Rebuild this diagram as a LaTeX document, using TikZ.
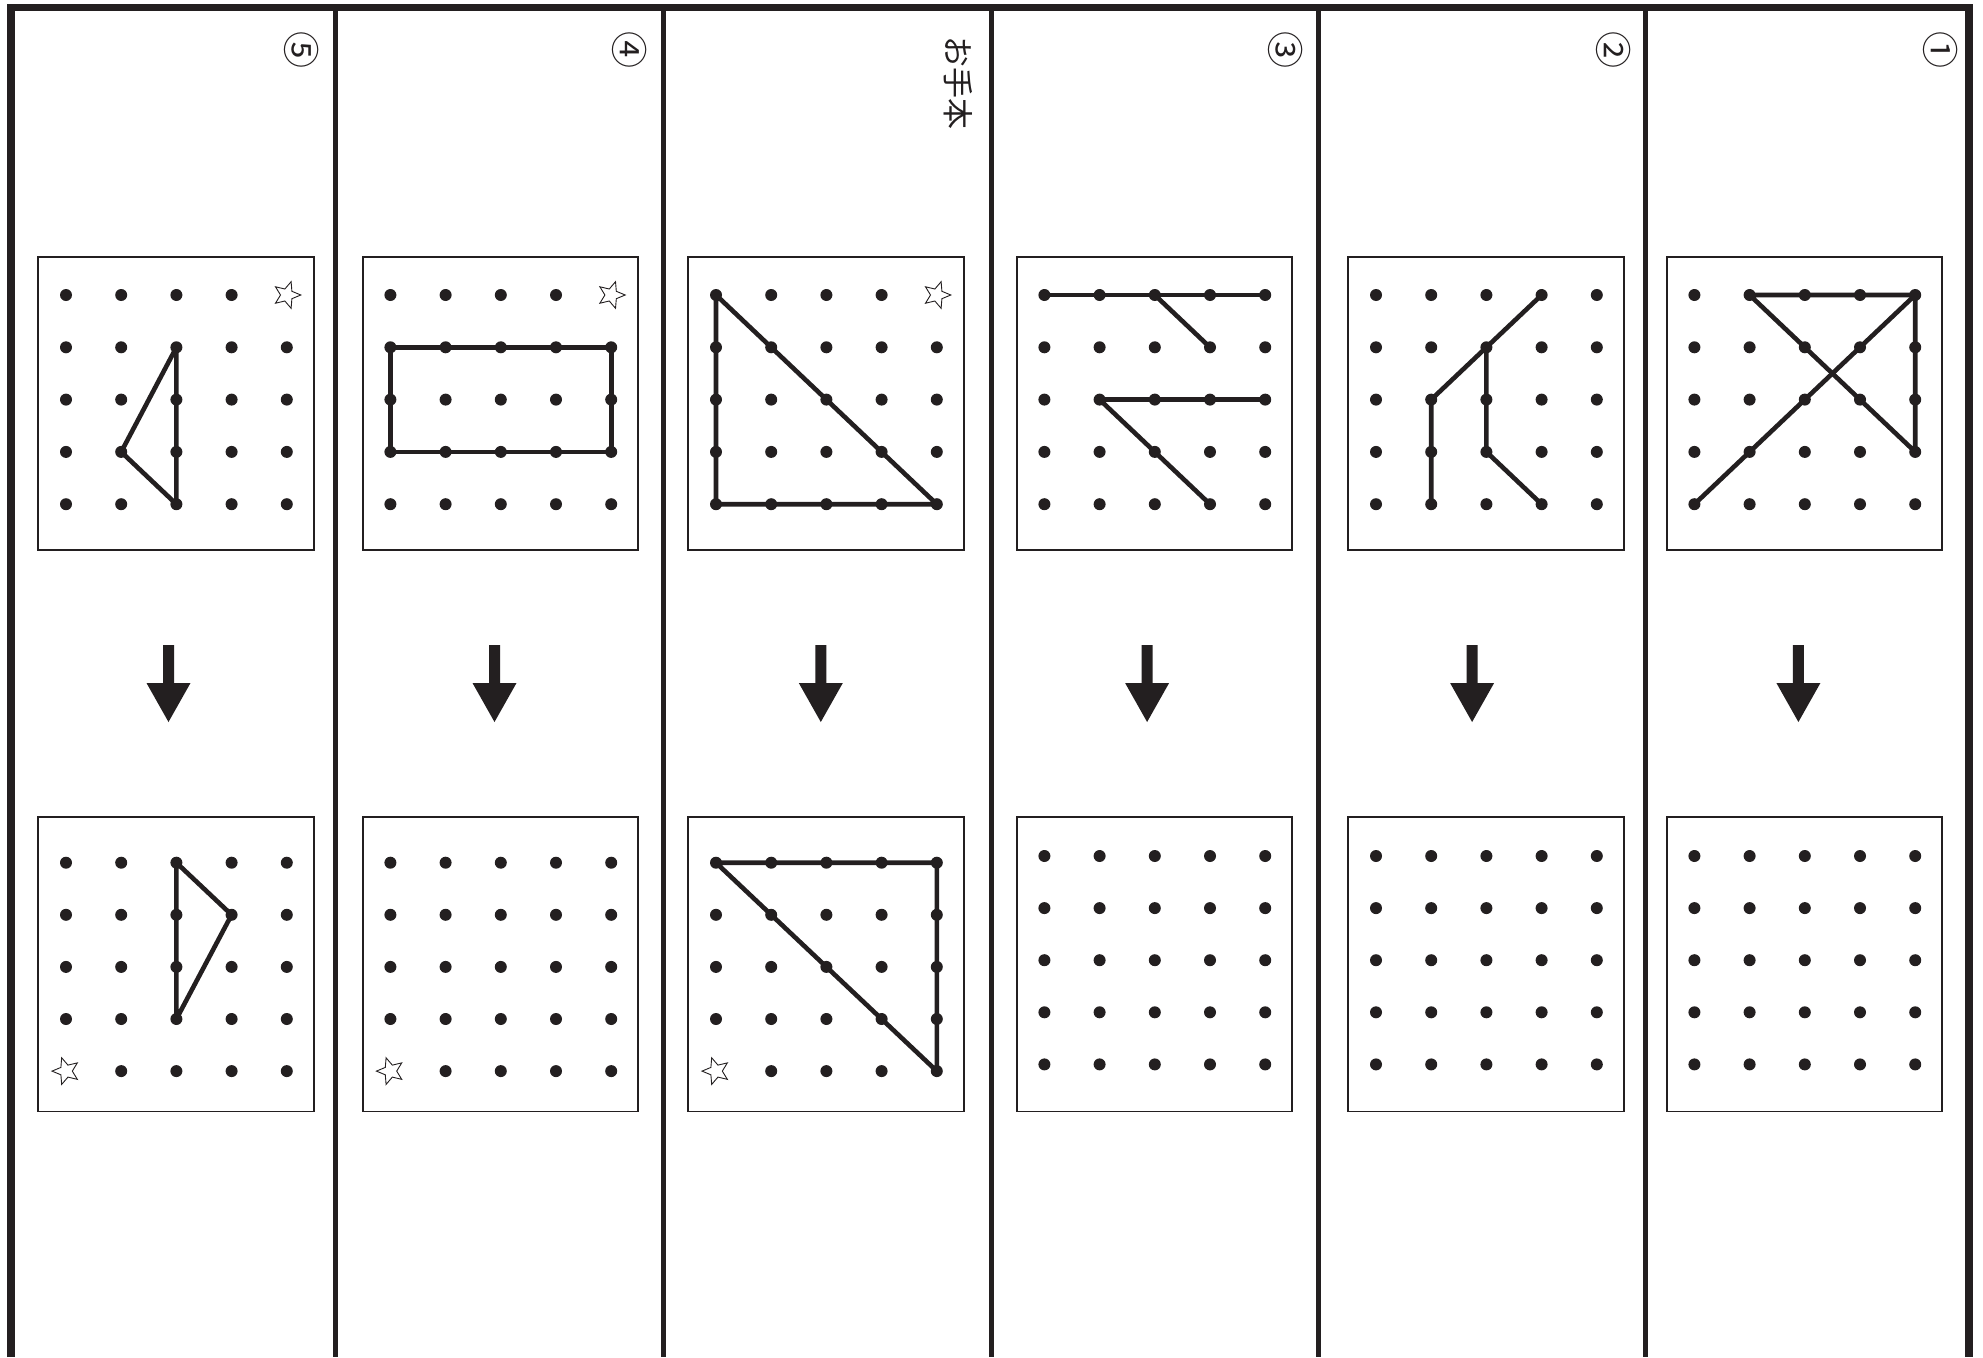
\documentclass[tikz,border=0pt]{standalone}
\usepackage{fontspec}
\newfontfamily\jpfont{Noto Sans CJK JP}
\definecolor{ink}{HTML}{231F20}
\tikzset{
  frameline/.style={line width=7.5pt, draw=ink, line join=miter, line cap=butt},
  divider/.style={line width=5pt, draw=ink},
  gridbox/.style={line width=1.8pt, draw=ink},
  shapeline/.style={line width=4.6pt, draw=ink, line cap=round, line join=round},
  dotmark/.style={fill=ink},
  starmark/.style={line width=0.9pt, draw=ink, fill=white, line join=miter},
  downarrow/.style={fill=ink},
  numlabel/.style={inner sep=0pt, text=ink, font=\jpfont\fontsize{37}{37}\selectfont, rotate=-90},
  titlelabel/.style={inner sep=0pt, text=ink, font=\jpfont\fontsize{31}{31}\selectfont, rotate=-90},
}
\newcommand\gstar[2]{%
  \draw[starmark, shift={(#1)}] (#2:14)
    \foreach \k in {1,...,9}{ -- ({#2+\k*36}:{ifthenelse(mod(\k,2)==1,6.3,14)}) } -- cycle;}
\begin{document}
\begin{tikzpicture}[x=1pt,y=-1pt]
\useasboundingbox (0,0) rectangle (1983,1357);
\fill[white] (0,0) rectangle (1983,1357);

% outer frame and dividers
\draw[frameline] (11,1357) -- (11,7.5) -- (1969,7.5) -- (1969,1357);
\foreach \x in {335,663,991,1318,1645}
  \draw[divider] (\x,7.5) -- (\x,1357);

% panels: number / box left / bottom grid first row / arrow centre
\foreach \p/\L/\bo/\ax in {1/38.3/862.7/168.5, 2/362.7/862.7/494.5, 3/688.3/862.7/820.8,
                           4/1016.7/856/1147.1, 5/1348.3/856/1472.1, 6/1666.7/856/1798.4}{
  \draw[gridbox] (\L,257) rectangle ++(275.5,293);
  \draw[gridbox] (\L,817) rectangle ++(275.5,294.5);
  \foreach \i in {0,...,4}{
    \foreach \j in {0,...,4}{
      \coordinate (T\p-\i\j) at ({\L+27.7+55.2*\i},{295+52.3*\j});
      \coordinate (B\p-\i\j) at ({\L+27.7+55.2*\i},{\bo+52.1*\j});
    }
  }
  \fill[downarrow] (\ax-5.5,645) -- (\ax+5.5,645) -- (\ax+5.5,683) -- (\ax+22,683)
     -- (\ax,722) -- (\ax-22,683) -- (\ax-5.5,683) -- cycle;
}

% figures
\draw[shapeline] (T1-21) -- (T1-13) -- (T1-24) -- cycle;
\draw[shapeline] (B1-20) -- (B1-31) -- (B1-23) -- cycle;
\draw[shapeline] (T2-01) -- (T2-41) -- (T2-43) -- (T2-03) -- cycle;
\draw[shapeline] (T3-00) -- (T3-44) -- (T3-04) -- cycle;
\draw[shapeline] (B3-00) -- (B3-40) -- (B3-44) -- cycle;
\draw[shapeline] (T4-00) -- (T4-40);
\draw[shapeline] (T4-20) -- (T4-31);
\draw[shapeline] (T4-12) -- (T4-42);
\draw[shapeline] (T4-12) -- (T4-34);
\draw[shapeline] (T5-30) -- (T5-12) -- (T5-14);
\draw[shapeline] (T5-21) -- (T5-23) -- (T5-34);
\draw[shapeline] (T6-10) -- (T6-40) -- (T6-43) -- cycle;
\draw[shapeline] (T6-40) -- (T6-04);

% dots
\foreach \p in {1,...,6}{
  \foreach \i in {0,...,4}{
    \foreach \j in {0,...,4}{
      \pgfmathtruncatemacro\skipT{(\p<4)&&(\i==4)&&(\j==0)}
      \pgfmathtruncatemacro\skipB{(\p<4)&&(\i==0)&&(\j==4)}
      \ifnum\skipT=0 \fill[dotmark] (T\p-\i\j) circle[radius=6pt];\fi
      \ifnum\skipB=0 \fill[dotmark] (B\p-\i\j) circle[radius=6pt];\fi
    }
  }
}

% stars
\foreach \p in {1,2,3}{
  \gstar{T\p-40}{0}
  \gstar{B\p-04}{180}
}

% labels
\node[numlabel] (n5) at (302,50) {⑤};
\node[numlabel] (n4) at (629.5,50) {④};
\node[titlelabel] (nm) at (958,82.5) {お手本};
\node[numlabel] (n3) at (1286,50) {③};
\node[numlabel] (n2) at (1613.5,50) {②};
\node[numlabel] (n1) at (1941,50) {①};
\end{tikzpicture}
\end{document}
